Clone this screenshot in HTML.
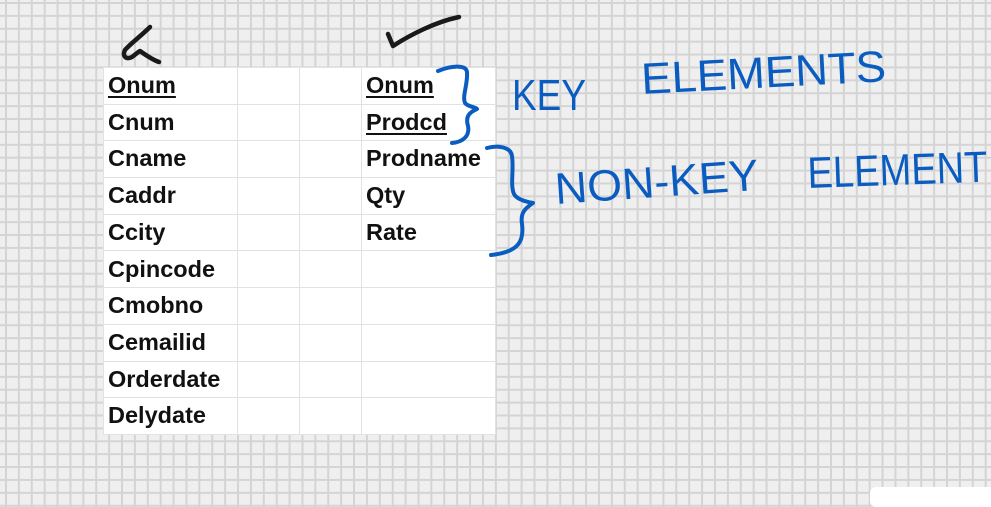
<!DOCTYPE html>
<html><head><meta charset="utf-8"><style>
html,body{margin:0;padding:0}
body{width:991px;height:493px;overflow:hidden;position:relative;
background-color:#efefef;
background-image:linear-gradient(to right,#d4d4d4 0,#d4d4d4 2px,transparent 2px),linear-gradient(to bottom,#d4d4d4 0,#d4d4d4 2px,transparent 2px);
background-size:12.9px 12.9px;background-position:5px 2px;
font-family:"Liberation Sans",sans-serif}
table{position:absolute;left:103px;top:67px;border-collapse:collapse;background:#fff;table-layout:fixed}
td{border:1px solid #e2e2e2;height:36.7px;padding:0 0 0 4px;font-weight:bold;font-size:23.5px;color:#111;vertical-align:middle;box-sizing:border-box;line-height:1;white-space:nowrap;overflow:visible}
td.a{width:134px}td.b{width:62px}td.c{width:62px}td.d{width:134px}
u{text-decoration-thickness:2px;text-underline-offset:3px}
.box{position:absolute;left:870px;top:487px;width:140px;height:20px;background:#fff;border-radius:6px}
svg{position:absolute;left:0;top:0}
</style></head><body>
<table>
<tr><td class="a"><u>Onum</u></td><td class="b"></td><td class="c"></td><td class="d"><u>Onum</u></td></tr>
<tr><td class="a">Cnum</td><td class="b"></td><td class="c"></td><td class="d"><u>Prodcd</u></td></tr>
<tr><td class="a">Cname</td><td class="b"></td><td class="c"></td><td class="d">Prodname</td></tr>
<tr><td class="a">Caddr</td><td class="b"></td><td class="c"></td><td class="d">Qty</td></tr>
<tr><td class="a">Ccity</td><td class="b"></td><td class="c"></td><td class="d">Rate</td></tr>
<tr><td class="a">Cpincode</td><td class="b"></td><td class="c"></td><td class="d"></td></tr>
<tr><td class="a">Cmobno</td><td class="b"></td><td class="c"></td><td class="d"></td></tr>
<tr><td class="a">Cemailid</td><td class="b"></td><td class="c"></td><td class="d"></td></tr>
<tr><td class="a">Orderdate</td><td class="b"></td><td class="c"></td><td class="d"></td></tr>
<tr><td class="a">Delydate</td><td class="b"></td><td class="c"></td><td class="d"></td></tr>
</table>
<div class="box"></div>
<svg width="991" height="493" viewBox="0 0 991 493">
<g fill="none" stroke="#1a1a1a" stroke-width="4.5" stroke-linecap="round" stroke-linejoin="round">
<path d="M150 27 C141 36 130 44 125 50 C122 56 126 60 132 57 C136 54 138 52 140 51 C147 56 153 60 159 62"/>
<path d="M388 34 L393 46 C410 35 435 22 459 17"/>
</g>
<g fill="none" stroke="#0b5cc0" stroke-width="4" stroke-linecap="round" stroke-linejoin="round">
<path d="M438 71 C450 66 466 64 467 72 C468 84 462 96 465 103 C468 107 476 107 477 109 C470 112 465 116 468 126 C470 136 463 142 452 143"/>
<path d="M487 148 C498 145 511 147 512 156 C514 170 510 185 514 194 C517 200 528 202 533 203 C526 208 520 212 522 224 C524 240 520 252 491 255"/>
</g>
<g fill="#0b5cc0" font-family="'Liberation Sans',sans-serif" font-size="44">
<text x="512" y="110" textLength="74" lengthAdjust="spacingAndGlyphs">KEY</text>
<text x="642" y="94" textLength="245" lengthAdjust="spacingAndGlyphs" transform="rotate(-3 642 94)">ELEMENTS</text>
<text x="556" y="204" textLength="204" lengthAdjust="spacingAndGlyphs" transform="rotate(-4 556 204)">NON-KEY</text>
<text x="808" y="188" textLength="180" lengthAdjust="spacingAndGlyphs" transform="rotate(-2 808 188)">ELEMENT</text>
</g>
</svg>
</body></html>
